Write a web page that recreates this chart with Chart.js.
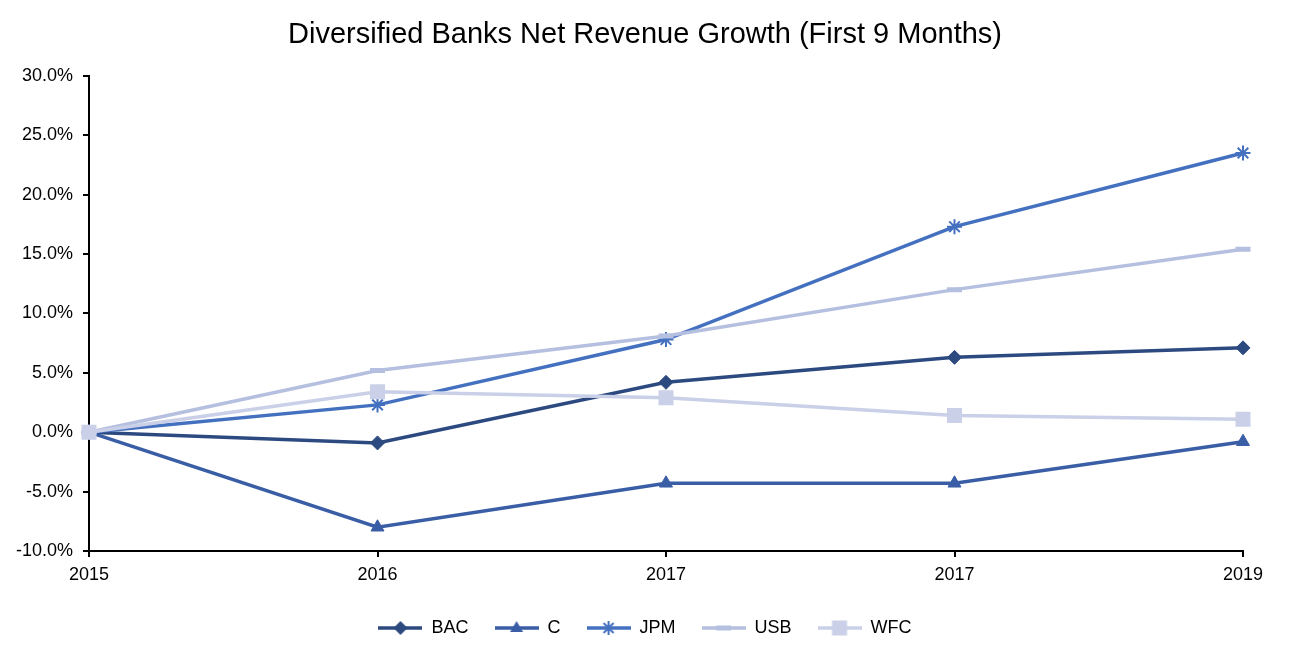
<!DOCTYPE html>
<html>
<head>
<meta charset="utf-8">
<script src="https://cdn.jsdelivr.net/npm/chart.js@4.4.1/dist/chart.umd.min.js"></script>
<style>
  body { margin: 0; background: #fff; }
  #wrap { width: 1290px; height: 657px; }
</style>
</head>
<body>
<div id="wrap"><canvas id="chart" width="1290" height="657"></canvas></div>
<script>
var years = ['2015', '2016', '2017', '2017', '2019'];
var bac = [0, -0.9, 4.2, 6.3, 7.1];
var c = [0, -8.0, -4.3, -4.3, -0.8];
var jpm = [0, 2.3, 7.8, 17.3, 23.5];
var usb = [0, 5.2, 8.1, 12.0, 15.4];
var wfc = [0, 3.4, 2.9, 1.4, 1.1];

var colors = {
    BAC: '#2d4a80',
    C: '#3a5ea6',
    JPM: '#4470c0',
    USB: '#b5bfdf',
    WFC: '#c9d0e7'
};

// small canvas with a line and the marker, used as legend icon
function legendIcon(style, color) {
    var cv = document.createElement('canvas');
    cv.width = 44;
    cv.height = 18;
    var g = cv.getContext('2d');
    g.strokeStyle = color;
    g.fillStyle = color;
    g.lineWidth = 3.5;
    g.beginPath();
    g.moveTo(0, 9);
    g.lineTo(44, 9);
    g.stroke();
    var x = 22, y = 9;
    g.beginPath();
    if (style === 'rectRot') {
        g.moveTo(x, y - 7); g.lineTo(x + 7, y); g.lineTo(x, y + 7); g.lineTo(x - 7, y);
        g.closePath(); g.fill();
    } else if (style === 'triangle') {
        g.moveTo(x, y - 7); g.lineTo(x + 6.5, y + 4); g.lineTo(x - 6.5, y + 4);
        g.closePath(); g.fill();
    } else if (style === 'star') {
        g.lineWidth = 2;
        g.moveTo(x - 7, y); g.lineTo(x + 7, y);
        g.moveTo(x, y - 7); g.lineTo(x, y + 7);
        g.moveTo(x - 5, y - 5); g.lineTo(x + 5, y + 5);
        g.moveTo(x - 5, y + 5); g.lineTo(x + 5, y - 5);
        g.stroke();
    } else if (style === 'line') {
        g.fillRect(x - 7.5, y - 2.5, 15, 5);
    } else if (style === 'rect') {
        g.fillRect(x - 7.5, y - 7.5, 15, 15);
    }
    return cv;
}

function series(label, data, style, radius, bw, order) {
    return {
        label: label,
        data: data,
        borderColor: colors[label],
        backgroundColor: colors[label],
        pointBackgroundColor: colors[label],
        pointBorderColor: colors[label],
        borderWidth: 3.5,
        pointStyle: style,
        pointRadius: radius,
        pointHoverRadius: radius,
        pointBorderWidth: bw,
        tension: 0,
        order: order,
        icon: legendIcon(style, colors[label])
    };
}

var tickFont = { family: 'Liberation Sans', size: 18 };

const ctx = document.getElementById('chart');
var chart = new Chart(ctx, {
    type: 'line',
    data: {
        labels: years,
        datasets: [
            series('BAC', bac, 'rectRot', 7, 1, 5),
            series('C', c, 'triangle', 7.5, 1, 4),
            series('JPM', jpm, 'star', 7.5, 2, 3),
            series('USB', usb, 'line', 7.5, 5, 2),
            series('WFC', wfc, 'rect', 10.6, 0, 1)
        ]
    },
    options: {
        responsive: false,
        animation: false,
        layout: { padding: { left: 0, right: 0, top: 0, bottom: 10 } },
        plugins: {
            title: {
                display: true,
                text: 'Diversified Banks Net Revenue Growth (First 9 Months)',
                color: '#000',
                font: { family: 'Liberation Sans', size: 29, weight: 'normal' },
                padding: { top: 18, bottom: 23 }
            },
            legend: {
                position: 'bottom',
                labels: {
                    usePointStyle: true,
                    pointStyleWidth: 44,
                    padding: 26,
                    color: '#000',
                    font: tickFont,
                    generateLabels: function (ch) {
                        return ch.data.datasets.map(function (ds, i) {
                            return {
                                text: ds.label,
                                pointStyle: ds.icon,
                                fillStyle: ds.borderColor,
                                strokeStyle: ds.borderColor,
                                lineWidth: 0,
                                hidden: false,
                                datasetIndex: i
                            };
                        });
                    }
                }
            },
            tooltip: { enabled: false }
        },
        scales: {
            x: {
                offset: false,
                border: { color: '#000', width: 2 },
                grid: { drawOnChartArea: false, drawTicks: true, tickLength: 6, color: '#000', lineWidth: 2 },
                ticks: { color: '#000', padding: 7, maxRotation: 0, font: tickFont },
                afterFit: function (scale) { scale.height = 42; }
            },
            y: {
                min: -10,
                max: 30,
                border: { color: '#000', width: 2 },
                grid: { drawOnChartArea: false, drawTicks: true, tickLength: 6, color: '#000', lineWidth: 2 },
                ticks: {
                    stepSize: 5,
                    color: '#000',
                    padding: 10,
                    font: tickFont,
                    callback: function (v) { return v.toFixed(1) + '%'; }
                },
                afterFit: function (scale) { scale.width = 89; }
            },
            // empty right axis, only keeps the right margin so the title stays centred on the page
            yRight: {
                position: 'right',
                display: true,
                border: { display: false },
                grid: { display: false },
                ticks: { display: false },
                afterFit: function (scale) { scale.width = 47; }
            }
        }
    }
});
</script>
</body>
</html>
